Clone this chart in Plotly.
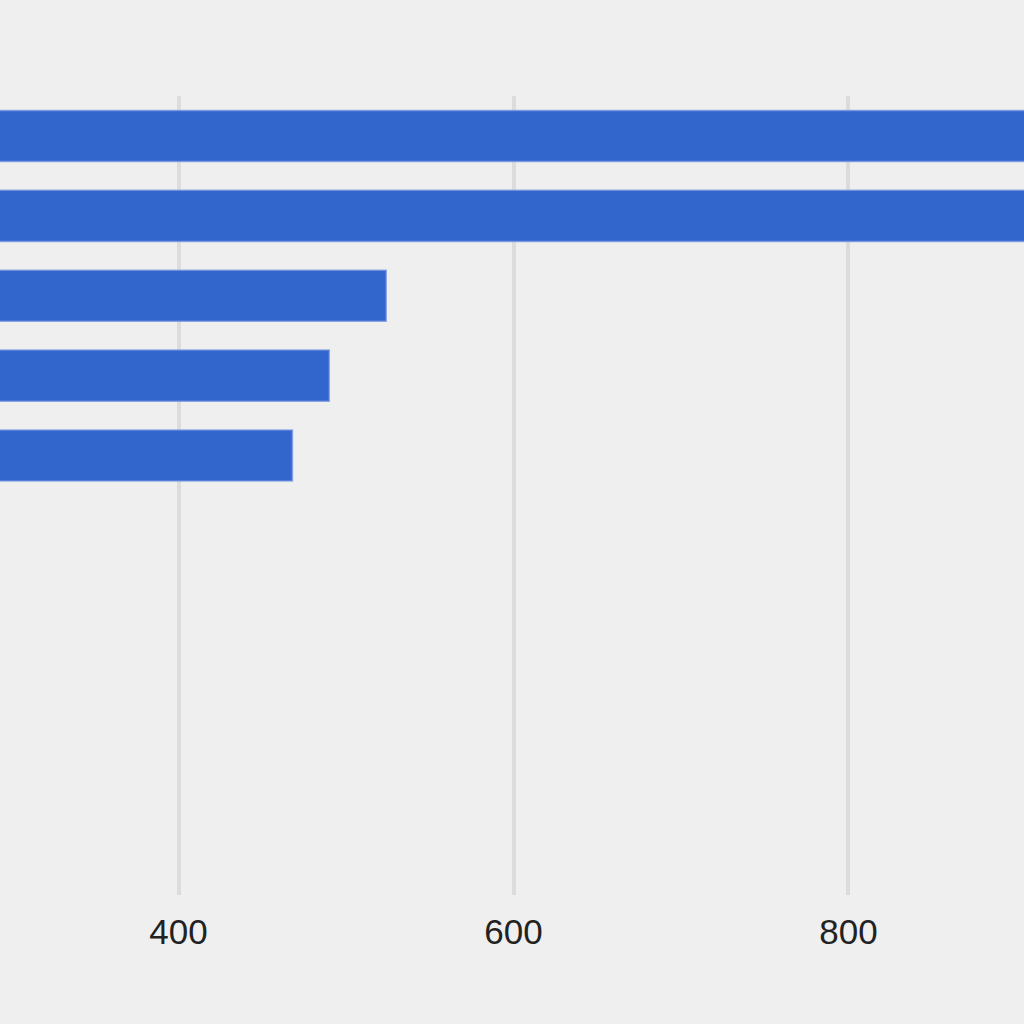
import plotly.graph_objects as go

# rows of the bar chart, top to bottom (only the visible part of the chart)
categories = ["A", "B", "C", "D", "E"]
values = [960, 950, 524, 490, 468]
tick_values = [200, 400, 600, 800, 1000]
tick_labels = ["200", "400", "600", "800", "1,000"]

BLUE = "#3366cc"
BG = "#efefef"


def main():
    fig = go.Figure()
    fig.add_trace(go.Bar(
        x=values,
        y=categories,
        orientation="h",
        width=0.64,
        marker=dict(color=BLUE, line=dict(color="rgba(120,150,225,0.75)", width=1.5)),
        hoverinfo="x",
    ))

    fig.update_layout(
        width=1024,
        height=1024,
        margin=dict(l=0, r=0, t=96, b=129, pad=0),
        paper_bgcolor=BG,
        plot_bgcolor=BG,
        showlegend=False,
        font=dict(family="Liberation Sans, Arial, sans-serif", size=35, color="#222222"),
        xaxis=dict(
            range=[293.4, 904.8],
            tickvals=tick_values,
            ticktext=tick_labels,
            showgrid=True,
            gridcolor="#dcdcdc",
            gridwidth=4,
            zeroline=False,
            showline=False,
            ticks="outside",
            ticklen=0,
            ticklabelstandoff=6,
            fixedrange=True,
        ),
        yaxis=dict(
            type="category",
            categoryorder="array",
            categoryarray=categories,
            range=[9.5, -0.5],
            showticklabels=False,
            showgrid=False,
            zeroline=False,
            showline=False,
            fixedrange=True,
        ),
    )
    # drop the page's default body margin so the figure fills the window
    fig.write_html(
        "out.html",
        config={"displayModeBar": False},
        post_script="document.body.style.margin='0';document.body.style.background='%s';"
                    "document.body.style.overflow='hidden';" % BG,
    )


if __name__ == "__main__":
    main()
